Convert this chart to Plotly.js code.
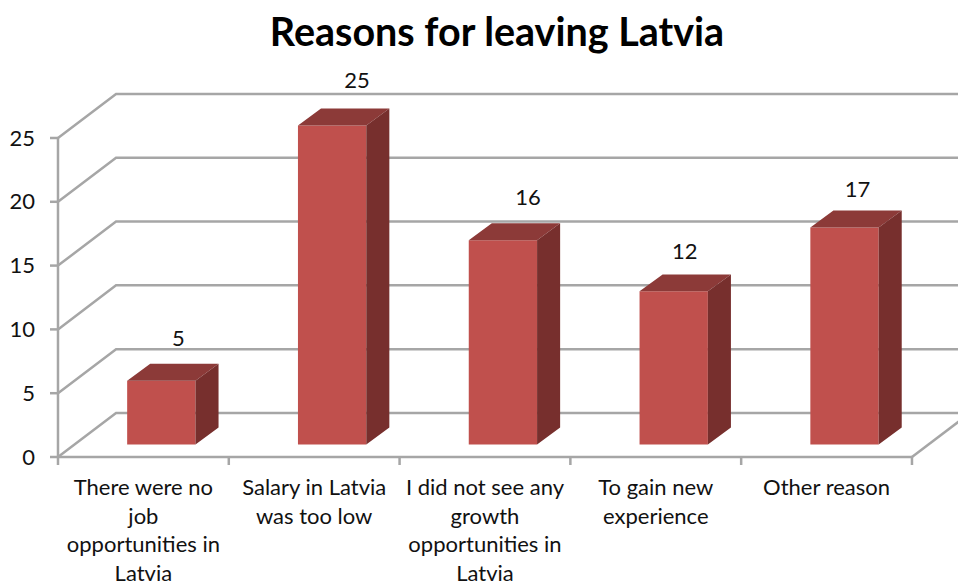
<!DOCTYPE html>
<html>
<head>
<meta charset="utf-8">
<script src="https://cdn.plot.ly/plotly-3.0.1.min.js"></script>
<style>html,body{margin:0;padding:0;background:#fff}#chart{width:958px;height:585px}</style>
</head>
<body>
<div id="chart"></div>
<script>
const categories = [
  "There were no<br>job<br>opportunities in<br>Latvia",
  "Salary in Latvia<br>was too low",
  "I did not see any<br>growth<br>opportunities in<br>Latvia",
  "To gain new<br>experience",
  "Other reason"
];
const reasonValues = [5, 25, 16, 12, 17];
const valueTicks = [0, 5, 10, 15, 20, 25];
const positions = [1, 2, 3, 4, 5];
const categoryEdges = [0.5, 1.5, 2.5, 3.5, 4.5, 5.5];

// Oblique projection of the box, in axis units
const wallDx = 0.34, wallDy = 3.45;
const barWidth = 0.4, barShift = 0.105, barBase = 0.98;
const barDx = 0.135, barDy = 1.33;
// Both ranges run past the axes so the tick stubs stay inside the plot clip
const xRange = [0.4415, 5.7695], yRange = [-0.784, 30.015];

// Hand-placed value labels: pixel nudges from each bar's centre and back top edge
const labelNudgeX = [17, 25, 25, 11, 13];
const labelNudgeY = [23.5, 26.5, 23.5, 20.5, 19.5];
const pxPerX = 170.8, pxPerY = 12.76;
const tickLength = 8;

const gridColor = "#a6a6a6";
const textColor = "#111111";
const fontFamily = "Lato, 'Open Sans', sans-serif";

// Wall gridlines with their slanted run along the side wall, plus floor edges
const axisX = categoryEdges[0];
const gridX = [], gridY = [];
valueTicks.forEach(v => {
  gridX.push(axisX, axisX + wallDx, xRange[1] + 1, null);
  gridY.push(v, v + wallDy, v + wallDy, null);
});
gridX.push(categoryEdges[5], categoryEdges[5] + wallDx * 1.3, null);
gridY.push(0, wallDy * 1.3, null);

// Axis lines with tick stubs joined to them
const axisLineX = [axisX, axisX, null, axisX, categoryEdges[5], null];
const axisLineY = [0, valueTicks[5], null, 0, 0, null];
valueTicks.forEach(v => {
  axisLineX.push(axisX - tickLength / pxPerX, axisX, null);
  axisLineY.push(v, v, null);
});
categoryEdges.forEach(e => {
  axisLineX.push(e, e, null);
  axisLineY.push(0, -tickLength / pxPerY, null);
});

const left = i => positions[i] + barShift - barWidth / 2;
const right = i => positions[i] + barShift + barWidth / 2;

const topX = [], topY = [], sideX = [], sideY = [];
reasonValues.forEach((v, i) => {
  const t = v + barBase;
  topX.push(left(i), right(i), right(i) + barDx, left(i) + barDx, left(i), null);
  topY.push(t, t, t + barDy, t + barDy, t, null);
  sideX.push(right(i), right(i) + barDx, right(i) + barDx, right(i), right(i), null);
  sideY.push(barBase, barBase + barDy, t + barDy, t, barBase, null);
});

const traces = [
  { x: gridX, y: gridY, mode: "lines", line: { color: gridColor, width: 2.5 }, hoverinfo: "skip" },
  { x: axisLineX, y: axisLineY, mode: "lines", line: { color: gridColor, width: 2.5 }, hoverinfo: "skip" },
  { type: "bar", x: positions.map(p => p + barShift), y: reasonValues, base: barBase, width: barWidth,
    marker: { color: "#c0504d", line: { width: 0 } }, xaxis: "x2", yaxis: "y2" },
  { x: topX, y: topY, mode: "lines", fill: "toself", fillcolor: "#8c3a38", line: { width: 0 },
    hoverinfo: "skip", xaxis: "x2", yaxis: "y2" },
  { x: sideX, y: sideY, mode: "lines", fill: "toself", fillcolor: "#772f2d", line: { width: 0 },
    hoverinfo: "skip", xaxis: "x2", yaxis: "y2" },
  { x: positions.map((p, i) => p + barShift + labelNudgeX[i] / pxPerX),
    y: reasonValues.map((v, i) => v + barBase + barDy + labelNudgeY[i] / pxPerY),
    text: reasonValues.map(String), mode: "text", textposition: "middle center",
    textfont: { family: fontFamily, size: 22, color: textColor }, hoverinfo: "skip",
    xaxis: "x2", yaxis: "y2", cliponaxis: false }
];

const layout = {
  width: 958, height: 585,
  margin: { l: 48, r: 0, t: 74, b: 118, pad: 0 },
  paper_bgcolor: "#ffffff", plot_bgcolor: "#ffffff",
  showlegend: false,
  title: {
    text: "<b>Reasons for leaving Latvia</b>",
    font: { family: fontFamily, size: 39.5, color: "#000000" },
    x: 497 / 958, xref: "container", xanchor: "center",
    y: 1 - 32 / 585, yref: "container", yanchor: "middle"
  },
  xaxis: {
    range: xRange, showticklabels: false, ticks: "",
    showgrid: false, zeroline: false, showline: false
  },
  yaxis: {
    range: yRange, tickmode: "array", tickvals: valueTicks, ticktext: valueTicks.map(String),
    ticks: "", ticklabelstandoff: 12,
    tickfont: { family: fontFamily, size: 22, color: textColor },
    showgrid: false, zeroline: false, showline: false
  },
  xaxis2: {
    overlaying: "x", anchor: "y2", range: xRange, tickmode: "array", tickvals: positions, ticktext: categories,
    ticks: "", ticklabelstandoff: 5, tickfont: { family: fontFamily, size: 22, color: textColor },
    showgrid: false, zeroline: false, showline: false
  },
  yaxis2: {
    overlaying: "y", anchor: "x2", range: yRange, showticklabels: false, ticks: "",
    showgrid: false, zeroline: false, showline: false
  }
};

Plotly.newPlot("chart", traces, layout, { displayModeBar: false, staticPlot: true });
</script>
</body>
</html>
